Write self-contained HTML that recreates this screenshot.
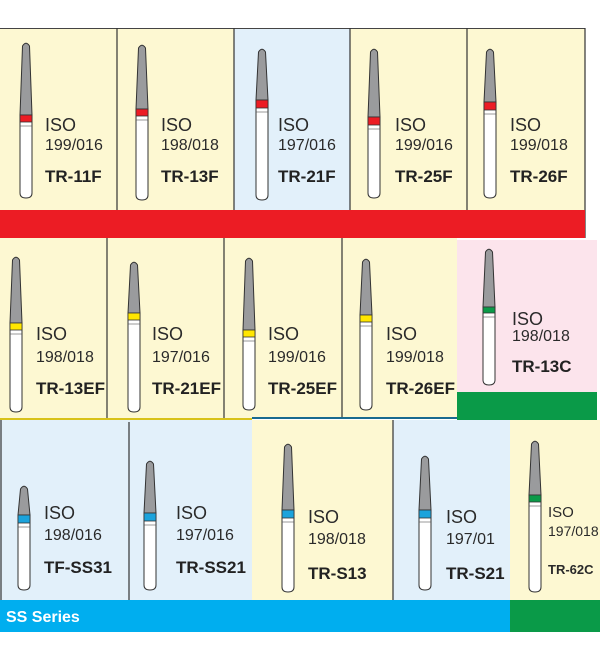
<!DOCTYPE html>
<html><head><meta charset="utf-8"><style>
html,body{margin:0;padding:0;background:#fff;width:600px;height:659px;overflow:hidden}
svg text{font-family:"Liberation Sans",Arial,sans-serif;fill:#2a2a2a}
.iso{font-size:18px}
.num{font-size:16px}
.code{font-size:17px;font-weight:bold;fill:#222}
</style></head><body>
<svg id="s" width="600" height="659" xmlns="http://www.w3.org/2000/svg">
<rect x="0" y="28" width="585" height="182" fill="#fdf8d2"/>
<rect x="234" y="28" width="116" height="182" fill="#e2f0fa"/>
<line x1="0" y1="28.5" x2="585" y2="28.5" stroke="#444" stroke-width="1"/>
<g stroke="#333" stroke-width="1.2">
<line x1="117" y1="28" x2="117" y2="210"/><line x1="234" y1="28" x2="234" y2="210"/>
<line x1="350" y1="28" x2="350" y2="210"/><line x1="467" y1="28" x2="467" y2="210"/>
<line x1="585" y1="28" x2="585" y2="238"/></g>
<rect x="0" y="210" width="585" height="28" fill="#ec1c24"/>
<rect x="0" y="238" width="457" height="181" fill="#fdf8d2"/>
<rect x="457" y="240" width="140" height="152" fill="#fce4ec"/>
<rect x="457" y="392" width="140" height="28" fill="#0a9a48"/>
<g stroke="#333" stroke-width="1.2">
<line x1="107" y1="238" x2="107" y2="418"/><line x1="224" y1="238" x2="224" y2="418"/>
<line x1="342" y1="238" x2="342" y2="418"/></g>
<line x1="0" y1="419" x2="252" y2="419" stroke="#d8c21a" stroke-width="2"/>
<line x1="252" y1="418" x2="457" y2="418" stroke="#1a6a90" stroke-width="2"/>
<rect x="0" y="420" width="252" height="180" fill="#e2f0fa"/>
<rect x="252" y="420" width="141" height="180" fill="#fdf8d2"/>
<rect x="393" y="420" width="117" height="180" fill="#e2f0fa"/>
<rect x="510" y="420" width="90" height="180" fill="#fdf8d2"/>
<g stroke="#333" stroke-width="1.2">
<line x1="1" y1="420" x2="1" y2="600"/><line x1="129" y1="422" x2="129" y2="600"/>
<line x1="393" y1="420" x2="393" y2="600"/></g>
<rect x="0" y="600" width="510" height="32" fill="#00aeef"/>
<rect x="510" y="600" width="90" height="32" fill="#0a9a48"/>
<text x="6" y="622" style="font-size:16px;font-weight:bold;fill:#fff">SS Series</text>
<g id="burs"></g>
<g>
<text class="iso" x="45" y="131">ISO</text><text class="num" x="45" y="150">199/016</text><text class="code" x="45" y="182">TR-11F</text>
<text class="iso" x="161" y="131">ISO</text><text class="num" x="161" y="150">198/018</text><text class="code" x="161" y="182">TR-13F</text>
<text class="iso" x="278" y="131">ISO</text><text class="num" x="278" y="150">197/016</text><text class="code" x="278" y="182">TR-21F</text>
<text class="iso" x="395" y="131">ISO</text><text class="num" x="395" y="150">199/016</text><text class="code" x="395" y="182">TR-25F</text>
<text class="iso" x="510" y="131">ISO</text><text class="num" x="510" y="150">199/018</text><text class="code" x="510" y="182">TR-26F</text>
</g>
<g>
<text class="iso" x="36" y="340">ISO</text><text class="num" x="36" y="362">198/018</text><text class="code" x="36" y="394">TR-13EF</text>
<text class="iso" x="152" y="340">ISO</text><text class="num" x="152" y="362">197/016</text><text class="code" x="152" y="394">TR-21EF</text>
<text class="iso" x="268" y="340">ISO</text><text class="num" x="268" y="362">199/016</text><text class="code" x="268" y="394">TR-25EF</text>
<text class="iso" x="386" y="340">ISO</text><text class="num" x="386" y="362">199/018</text><text class="code" x="386" y="394">TR-26EF</text>
<text class="iso" x="512" y="325">ISO</text><text class="num" x="512" y="341">198/018</text><text class="code" x="512" y="372">TR-13C</text>
</g>
<g>
<text class="iso" x="44" y="519">ISO</text><text class="num" x="44" y="540">198/016</text><text class="code" x="44" y="573">TF-SS31</text>
<text class="iso" x="176" y="519">ISO</text><text class="num" x="176" y="540">197/016</text><text class="code" x="176" y="573">TR-SS21</text>
<text class="iso" x="308" y="523">ISO</text><text class="num" x="308" y="544">198/018</text><text class="code" x="308" y="579">TR-S13</text>
<text class="iso" x="446" y="523">ISO</text><text class="num" x="446" y="544">197/01</text><text class="code" x="446" y="579">TR-S21</text>
<text x="548" y="517" style="font-size:15px">ISO</text><text x="548" y="536" style="font-size:14px">197/018</text><text x="548" y="574" style="font-size:13px;font-weight:bold">TR-62C</text>
</g>
</svg>
<script>
var B=[
[26,42,115,122,198,'#ec1c24'],[142,44,109,116,200,'#ec1c24'],[262,48,100,108,200,'#ec1c24'],[374,48,117,125,198,'#ec1c24'],[490,48,102,110,198,'#ec1c24'],
[16,256,323,330,412,'#ffe600'],[134,261,313,320,412,'#ffe600'],[249,257,330,337,410,'#ffe600'],[366,258,315,322,410,'#ffe600'],
[489,248,307,313,385,'#0a9a48'],
[24,485,515,523,590,'#1ba3dc'],[150,460,513,521,590,'#1ba3dc'],[288,443,510,518,592,'#1ba3dc'],[425,455,510,518,590,'#1ba3dc'],[535,440,495,502,592,'#0a9a48']];
var g=document.getElementById('burs'),h='';
B.forEach(function(b){var cx=b[0],t=b[1],bt=b[2],bb=b[3],bo=b[4],c=b[5],w=12,r=w/2;
h+='<path d="M'+(cx-r)+' '+bt+' L'+(cx-3.5)+' '+(t+4)+' Q'+cx+' '+(t-1.5)+' '+(cx+3.5)+' '+(t+4)+' L'+(cx+r)+' '+bt+' Z" fill="#9a9b9d" stroke="#333" stroke-width="1"/>';
h+='<path d="M'+(cx-r)+' '+bt+' L'+(cx-r)+' '+(bo-5)+' Q'+(cx-r)+' '+bo+' '+cx+' '+bo+' Q'+(cx+r)+' '+bo+' '+(cx+r)+' '+(bo-5)+' L'+(cx+r)+' '+bt+' Z" fill="#fff" stroke="#333" stroke-width="1"/>';
h+='<rect x="'+(cx-r)+'" y="'+bt+'" width="'+w+'" height="'+(bb-bt)+'" fill="'+c+'" stroke="#333" stroke-width="0.8"/>';
h+='<line x1="'+(cx-r)+'" y1="'+(bb+4)+'" x2="'+(cx+r)+'" y2="'+(bb+4)+'" stroke="#555" stroke-width="0.6"/>';});
g.innerHTML=h;
</script>
</body></html>
